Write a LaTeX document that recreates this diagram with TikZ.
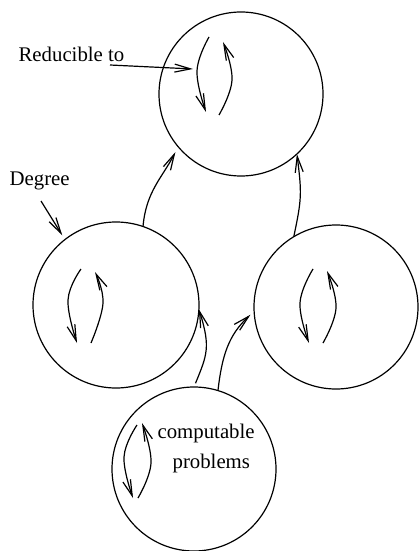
\documentclass[tikz,border=0pt]{standalone}
\usepackage{fontspec}
\setmainfont{Liberation Serif}
\usetikzlibrary{arrows.meta}
\begin{document}
\begin{tikzpicture}[x=0.5pt,y=-0.5pt,line width=0.6pt,
  circ/.style={draw, circle, minimum size=82pt, inner sep=0pt, outer sep=0pt},
  arr/.style={-{Straight Barb[length=8pt,width=4pt]}},
  lbl/.style={inner sep=0pt, font=\fontsize{10.4}{12}\selectfont}
]
\useasboundingbox (0,0) rectangle (418,551);
% circles
\node[circ] (T) at (241,94) {};
\node[circ, minimum size=83pt] (L) at (116,305) {};
\node[circ] (R) at (336,307) {};
\node[circ] (B) at (194,469) {};
% labels
\node[lbl, anchor=base west] (red) at (18,62) {Reducible to};
\node[lbl, anchor=base west] (deg) at (9,185) {Degree};
\node[lbl, anchor=base west] (comp) at (157,438) {computable};
\node[lbl, anchor=base west] (prob) at (172,468) {problems};
% label arrows
\coordinate (ra) at (110,65);
\coordinate (rb) at (193,69);
\draw[arr] (ra) -- (rb);
\coordinate (da) at (41,201);
\draw[arr, shorten >=2.5pt] (da) -- (L.128);
% connectors between circles
\draw[arr, shorten >=3pt] (L.71) .. controls +(3,-35) and +(-16,31) .. (T.-140.5);
\draw[arr] (R.121.6) .. controls +(8,-38) and +(5,40) .. (T.-47);
\draw[arr, shorten <=2pt] (B.90) .. controls +(13,-32) and +(12,38) .. (L.-3.5);
\draw[arr, shorten >=2.5pt] (B.73) .. controls +(4,-35) and +(-25.6,23.9) .. (R.183);
% inner loops
\draw[arr] plot[smooth, tension=0.7] coordinates {(209,37) (197,71) (206,112)};
\draw[arr] plot[smooth, tension=0.7] coordinates {(219,115) (232,80) (223,42)};
\draw[arr] plot[smooth, tension=0.7] coordinates {(81,269) (68,300) (77,343)};
\draw[arr] plot[smooth, tension=0.7] coordinates {(91,343) (103,303) (95,272)};
\draw[arr] plot[smooth, tension=0.7] coordinates {(313,269) (300,303) (309,343)};
\draw[arr] plot[smooth, tension=0.7] coordinates {(323,343) (336,308) (327,271)};
\draw[arr] plot[smooth, tension=0.7] coordinates {(137,425) (124,457) (133,498)};
\draw[arr] plot[smooth, tension=0.7] coordinates {(138,498) (151,463) (142,423)};
\end{tikzpicture}
\end{document}
